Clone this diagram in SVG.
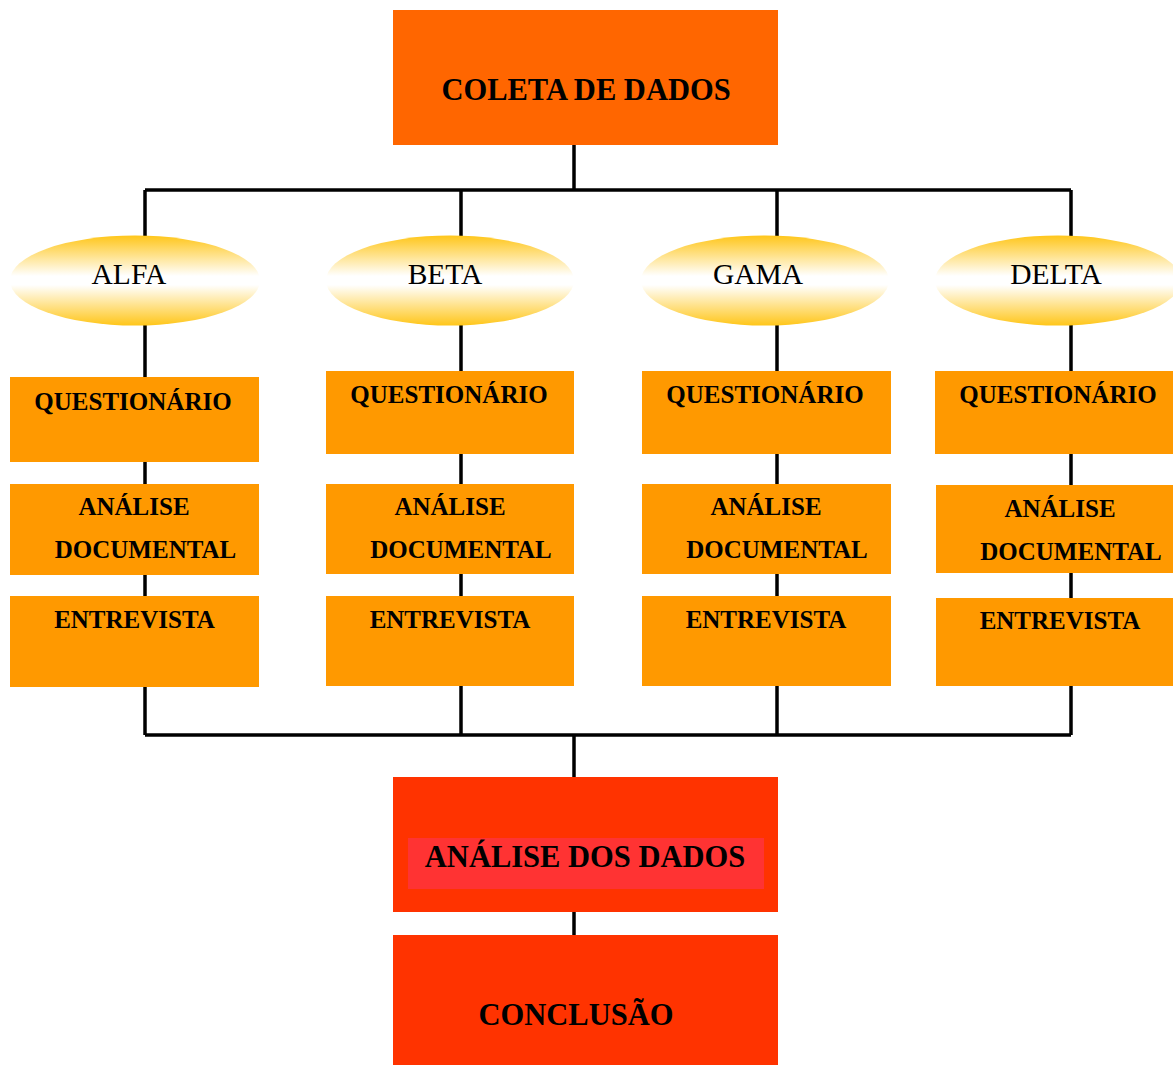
<svg xmlns="http://www.w3.org/2000/svg" width="1173" height="1065" viewBox="0 0 1173 1065">
<defs>
<linearGradient id="yg" x1="0" y1="0" x2="0" y2="1">
<stop offset="0" stop-color="#FFC61A"/>
<stop offset="0.45" stop-color="#FFFFFF"/>
<stop offset="0.55" stop-color="#FFFFFF"/>
<stop offset="1" stop-color="#FFC61A"/>
</linearGradient>
<style>
.ln{stroke:#000;stroke-width:3.5;fill:none}
.ell{fill:url(#yg)}
.box{fill:#FF9900}
.t{font-family:"Liberation Serif","Times New Roman",serif;font-weight:bold;font-size:25px;fill:#000;text-anchor:middle}
.big{font-family:"Liberation Serif","Times New Roman",serif;font-weight:bold;font-size:30.5px;fill:#000;text-anchor:middle}
.el{font-family:"Liberation Serif","Times New Roman",serif;font-size:29.5px;fill:#000;text-anchor:middle}
</style>
</defs>
<rect width="1173" height="1065" fill="#fff"/>
<g id="connectors">
<line class="ln" x1="574" y1="145" x2="574" y2="190"/>
<line class="ln" x1="145" y1="190" x2="1071" y2="190"/>
<line class="ln" x1="145" y1="190" x2="145" y2="735"/>
<line class="ln" x1="461" y1="190" x2="461" y2="735"/>
<line class="ln" x1="777" y1="190" x2="777" y2="735"/>
<line class="ln" x1="1071" y1="190" x2="1071" y2="735"/>
<line class="ln" x1="145" y1="735" x2="1071" y2="735"/>
<line class="ln" x1="574" y1="735" x2="574" y2="777"/>
<line class="ln" x1="574" y1="912" x2="574" y2="935"/>
</g>
<g id="coleta">
<rect x="393" y="10" width="385" height="135" fill="#FF6600"/>
<text class="big" x="586" y="100">COLETA DE DADOS</text>
</g>
<g id="alfa"><ellipse class="ell" cx="135" cy="280.5" rx="125" ry="45"/><text class="el" x="129" y="284">ALFA</text></g>
<g id="beta"><ellipse class="ell" cx="450" cy="280.5" rx="124" ry="45"/><text class="el" x="445" y="284">BETA</text></g>
<g id="gama"><ellipse class="ell" cx="765" cy="280.5" rx="124" ry="45"/><text class="el" x="758" y="284">GAMA</text></g>
<g id="delta"><ellipse class="ell" cx="1058" cy="280.5" rx="123" ry="45"/><text class="el" x="1056" y="284">DELTA</text></g>

<g id="q1"><rect class="box" x="10" y="377" width="249" height="85"/><text class="t" x="133" y="410">QUESTIONÁRIO</text></g>
<g id="a1"><rect class="box" x="10" y="484" width="249" height="91"/><text class="t" x="134" y="515">ANÁLISE</text><text class="t" x="145.5" y="558">DOCUMENTAL</text></g>
<g id="e1"><rect class="box" x="10" y="596" width="249" height="91"/><text class="t" x="134.5" y="628">ENTREVISTA</text></g>

<g id="q2"><rect class="box" x="326" y="371" width="248" height="83"/><text class="t" x="449" y="403">QUESTIONÁRIO</text></g>
<g id="a2"><rect class="box" x="326" y="484" width="248" height="90"/><text class="t" x="450" y="515">ANÁLISE</text><text class="t" x="461" y="558">DOCUMENTAL</text></g>
<g id="e2"><rect class="box" x="326" y="596" width="248" height="90"/><text class="t" x="450" y="628">ENTREVISTA</text></g>

<g id="q3"><rect class="box" x="642" y="371" width="249" height="83"/><text class="t" x="765" y="403">QUESTIONÁRIO</text></g>
<g id="a3"><rect class="box" x="642" y="484" width="249" height="90"/><text class="t" x="766" y="515">ANÁLISE</text><text class="t" x="777" y="558">DOCUMENTAL</text></g>
<g id="e3"><rect class="box" x="642" y="596" width="249" height="90"/><text class="t" x="766" y="628">ENTREVISTA</text></g>

<g id="q4"><rect class="box" x="935" y="371" width="238" height="83"/><text class="t" x="1058" y="403">QUESTIONÁRIO</text></g>
<g id="a4"><rect class="box" x="936" y="485" width="237" height="88"/><text class="t" x="1060" y="517">ANÁLISE</text><text class="t" x="1071" y="560">DOCUMENTAL</text></g>
<g id="e4"><rect class="box" x="936" y="598" width="237" height="88"/><text class="t" x="1060" y="629">ENTREVISTA</text></g>

<g id="analise">
<rect x="393" y="777" width="385" height="135" fill="#FF3300"/>
<rect x="408" y="838" width="356" height="51" fill="#FF3333"/>
<text class="big" x="585" y="867">ANÁLISE DOS DADOS</text>
</g>
<g id="conclusao">
<rect x="393" y="935" width="385" height="130" fill="#FF3300"/>
<text class="big" x="576" y="1025">CONCLUSÃO</text>
</g>
</svg>
